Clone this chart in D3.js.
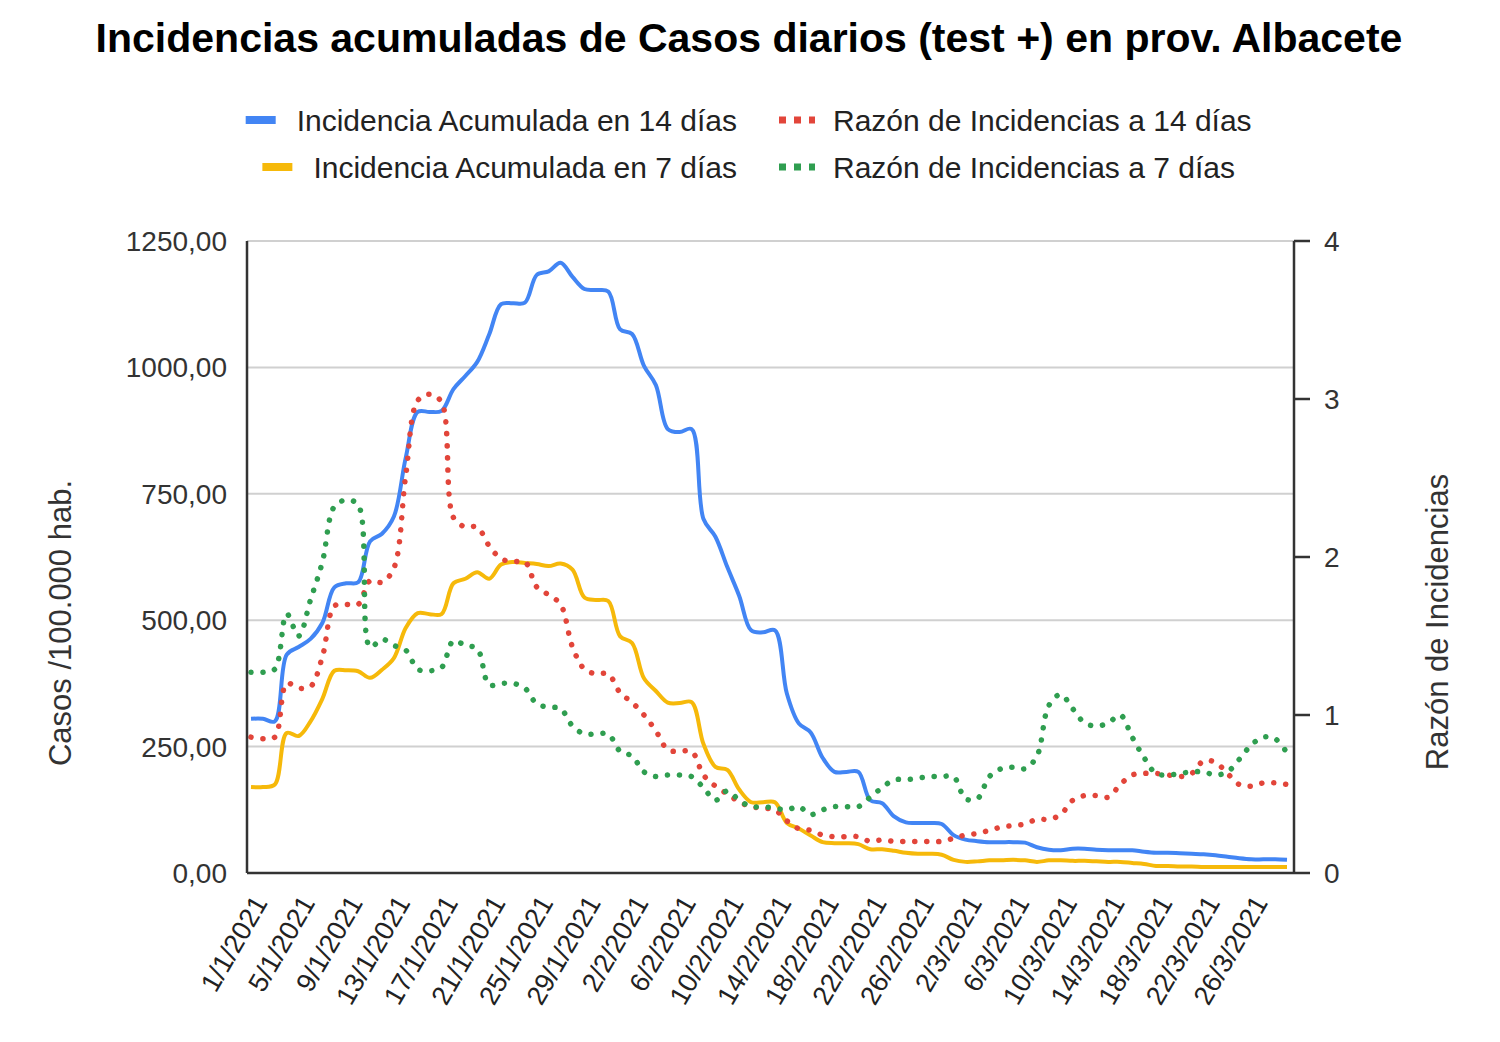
<!DOCTYPE html>
<html>
<head>
<meta charset="utf-8">
<script src="https://cdn.jsdelivr.net/npm/d3@7"></script>
<style>
  body { margin: 0; background: #fff; }
  svg { font-family: "Liberation Sans", Arial, sans-serif; }
</style>
</head>
<body>
<svg id="chart" width="1500" height="1042"></svg>
<script>
// daily values, 1/1/2021 .. 28/3/2021
const startDate = new Date(2021, 0, 1);

const ia14 = [305, 305, 300, 432, 447, 463, 495, 565, 573, 575,
  656, 671, 705, 822, 912, 912, 914, 957, 983, 1011,
  1065, 1125, 1127, 1128, 1183, 1190, 1207, 1179, 1155, 1153,
  1150, 1075, 1066, 1003, 965, 878, 872, 878, 700, 665,
  605, 548, 480, 476, 480, 355, 296, 278, 228, 200,
  200, 200, 144, 138, 112, 100, 99, 99, 97, 75,
  66, 63, 61, 61, 61, 60, 51, 46, 45, 48,
  48, 46, 45, 45, 45, 42, 40, 40, 39, 38,
  37, 35, 32, 29, 27, 27, 27, 26];

const ia7 = [170, 170, 175, 277, 271, 300, 345, 400, 401, 399,
  386, 402, 425, 485, 514, 512, 512, 573, 582, 595,
  582, 610, 615, 613, 611, 607, 612, 600, 545, 540,
  538, 468, 455, 385, 360, 337, 336, 338, 255, 210,
  204, 165, 140, 140, 140, 99, 88, 74, 61, 59,
  59, 57, 47, 47, 44, 40, 38, 38, 36, 26,
  22, 23, 25, 25, 26, 25, 22, 25, 25, 24,
  24, 23, 22, 22, 20, 18, 14, 14, 13, 13,
  12, 12, 12, 12, 12, 12, 12, 12];

const ri14 = [0.86, 0.85, 0.86, 1.20, 1.17, 1.18, 1.37, 1.69, 1.70, 1.70,
  1.85, 1.84, 1.93, 2.52, 2.99, 3.03, 2.98, 2.25, 2.19, 2.19,
  2.07, 1.99, 1.97, 1.97, 1.81, 1.76, 1.70, 1.43, 1.29, 1.26,
  1.26, 1.14, 1.08, 1.00, 0.90, 0.78, 0.77, 0.77, 0.62, 0.55,
  0.50, 0.45, 0.42, 0.41, 0.40, 0.33, 0.28, 0.27, 0.24, 0.23,
  0.23, 0.23, 0.20, 0.21, 0.20, 0.20, 0.20, 0.20, 0.20, 0.22,
  0.24, 0.25, 0.27, 0.29, 0.30, 0.31, 0.34, 0.34, 0.37, 0.46,
  0.49, 0.49, 0.48, 0.56, 0.62, 0.63, 0.63, 0.62, 0.61, 0.63,
  0.71, 0.70, 0.63, 0.56, 0.55, 0.57, 0.57, 0.56];

const ri7 = [1.27, 1.27, 1.29, 1.64, 1.50, 1.73, 1.97, 2.32, 2.36, 2.33,
  1.43, 1.48, 1.44, 1.41, 1.29, 1.28, 1.30, 1.47, 1.44, 1.42,
  1.19, 1.20, 1.20, 1.17, 1.07, 1.05, 1.04, 0.93, 0.88, 0.88,
  0.88, 0.77, 0.74, 0.64, 0.61, 0.62, 0.62, 0.61, 0.54, 0.46,
  0.52, 0.46, 0.42, 0.42, 0.41, 0.40, 0.42, 0.37, 0.40, 0.42,
  0.42, 0.42, 0.48, 0.54, 0.59, 0.59, 0.60, 0.61, 0.61, 0.61,
  0.47, 0.47, 0.61, 0.66, 0.67, 0.66, 0.74, 1.06, 1.13, 1.04,
  0.95, 0.93, 0.95, 1.00, 0.86, 0.73, 0.63, 0.62, 0.63, 0.64,
  0.64, 0.62, 0.64, 0.72, 0.81, 0.86, 0.85, 0.76];

const xTickLabels = ["1/1/2021", "5/1/2021", "9/1/2021", "13/1/2021", "17/1/2021",
  "21/1/2021", "25/1/2021", "29/1/2021", "2/2/2021", "6/2/2021", "10/2/2021",
  "14/2/2021", "18/2/2021", "22/2/2021", "26/2/2021", "2/3/2021", "6/3/2021",
  "10/3/2021", "14/3/2021", "18/3/2021", "22/3/2021", "26/3/2021"];
const leftTicks = [0, 250, 500, 750, 1000, 1250];
const rightTicks = [0, 1, 2, 3, 4];

const series = [
  { name: "Incidencia Acumulada en 14 días", values: ia14, axis: "left", color: "#4285f4", dotted: false },
  { name: "Incidencia Acumulada en 7 días", values: ia7, axis: "left", color: "#f6b90a", dotted: false },
  { name: "Razón de Incidencias a 14 días", values: ri14, axis: "right", color: "#e2453a", dotted: true },
  { name: "Razón de Incidencias a 7 días", values: ri7, axis: "right", color: "#2f9e50", dotted: true }
];

const dates = ia14.map((_, i) => d3.timeDay.offset(startDate, i));
const fmtDate = d => `${d.getDate()}/${d.getMonth() + 1}/${d.getFullYear()}`;

const svg = d3.select("#chart");
const plot = { left: 247, right: 1294, top: 241, bottom: 873 };

const x = d3.scaleTime()
  .domain([dates[0], dates[dates.length - 1]])
  .range([251, 1287]);
const yLeft = d3.scaleLinear().domain([0, 1250]).range([plot.bottom, plot.top]);
const yRight = d3.scaleLinear().domain([0, 4]).range([plot.bottom, plot.top]);

// title
svg.append("text")
  .attr("x", 749).attr("y", 52)
  .attr("text-anchor", "middle")
  .style("font-size", "41px").style("font-weight", "bold").style("fill", "#000")
  .text("Incidencias acumuladas de Casos diarios (test +) en prov. Albacete");

// gridlines
svg.append("g")
  .selectAll("line")
  .data(leftTicks)
  .enter().append("line")
  .attr("x1", plot.left).attr("x2", plot.right)
  .attr("y1", d => yLeft(d)).attr("y2", d => yLeft(d))
  .attr("stroke", "#d0d0d0").attr("stroke-width", 2);

// left axis labels
svg.append("g")
  .selectAll("text")
  .data(leftTicks)
  .enter().append("text")
  .attr("x", 227).attr("y", d => yLeft(d) + 10)
  .attr("text-anchor", "end")
  .style("font-size", "28px").style("fill", "#333")
  .text(d => d3.format(".2f")(d).replace(".", ","));

// right axis
svg.append("line")
  .attr("x1", plot.right).attr("x2", plot.right)
  .attr("y1", plot.top).attr("y2", plot.bottom)
  .attr("stroke", "#333").attr("stroke-width", 2.5);
svg.append("g")
  .selectAll("line")
  .data(rightTicks)
  .enter().append("line")
  .attr("x1", plot.right).attr("x2", 1310)
  .attr("y1", d => yRight(d)).attr("y2", d => yRight(d))
  .attr("stroke", "#333").attr("stroke-width", 2.5);
svg.append("g")
  .selectAll("text")
  .data(rightTicks)
  .enter().append("text")
  .attr("x", 1324).attr("y", d => yRight(d) + 10)
  .style("font-size", "28px").style("fill", "#333")
  .text(d => d);

// axis titles
svg.append("text")
  .attr("transform", "translate(71,623) rotate(-90)")
  .attr("text-anchor", "middle")
  .style("font-size", "31px").style("fill", "#333")
  .text("Casos /100.000 hab.");
svg.append("text")
  .attr("transform", "translate(1448,622) rotate(-90)")
  .attr("text-anchor", "middle")
  .style("font-size", "31px").style("fill", "#333")
  .text("Razón de Incidencias");

// lines (smooth like the original)
const curve = d3.curveCatmullRom.alpha(0.5);
series.forEach(s => {
  const yScale = s.axis === "left" ? yLeft : yRight;
  const line = d3.line()
    .x((d, i) => x(dates[i]))
    .y(d => yScale(d))
    .curve(curve);
  const path = svg.append("path")
    .datum(s.values)
    .attr("d", line)
    .attr("fill", "none")
    .attr("stroke", s.color);
  if (s.dotted) {
    path.attr("stroke-width", 5.5)
      .attr("stroke-linecap", "round")
      .attr("stroke-dasharray", "0.1 11.9");
  } else {
    path.attr("stroke-width", 4)
      .attr("stroke-linejoin", "round");
  }
});

// left + bottom axis lines
svg.append("line")
  .attr("x1", plot.left).attr("x2", plot.left)
  .attr("y1", plot.top).attr("y2", plot.bottom)
  .attr("stroke", "#333").attr("stroke-width", 2.5);
svg.append("line")
  .attr("x1", plot.left).attr("x2", plot.right)
  .attr("y1", plot.bottom).attr("y2", plot.bottom)
  .attr("stroke", "#333").attr("stroke-width", 2.5);

// x tick labels
const tickDates = dates.filter(d => xTickLabels.includes(fmtDate(d)));
svg.append("g")
  .selectAll("text")
  .data(tickDates)
  .enter().append("text")
  .attr("transform", d => `translate(${x(d) + 9},${898}) rotate(-60)`)
  .attr("text-anchor", "end")
  .attr("dy", "0.35em")
  .style("font-size", "27px").style("fill", "#222")
  .text(d => fmtDate(d));

// legend
const legendRows = [
  [series[0], series[2]],
  [series[1], series[3]]
];
legendRows.forEach((row, r) => {
  const cy = 120 + r * 47;
  // left column, right aligned
  const left = row[0];
  const t = svg.append("text")
    .attr("x", 737).attr("y", cy + 11)
    .attr("text-anchor", "end")
    .style("font-size", "30px").style("fill", "#222")
    .text(left.name);
  const w = t.node().getComputedTextLength();
  svg.append("rect")
    .attr("x", 737 - w - 51).attr("y", cy - 4)
    .attr("width", 30).attr("height", 8)
    .attr("fill", left.color);
  // right column
  const right = row[1];
  svg.append("line")
    .attr("x1", 779).attr("x2", 815)
    .attr("y1", cy).attr("y2", cy)
    .attr("stroke", right.color)
    .attr("stroke-width", 7)
    .attr("stroke-dasharray", "7 8");
  svg.append("text")
    .attr("x", 833).attr("y", cy + 11)
    .style("font-size", "30px").style("fill", "#222")
    .text(right.name);
});
</script>
</body>
</html>
